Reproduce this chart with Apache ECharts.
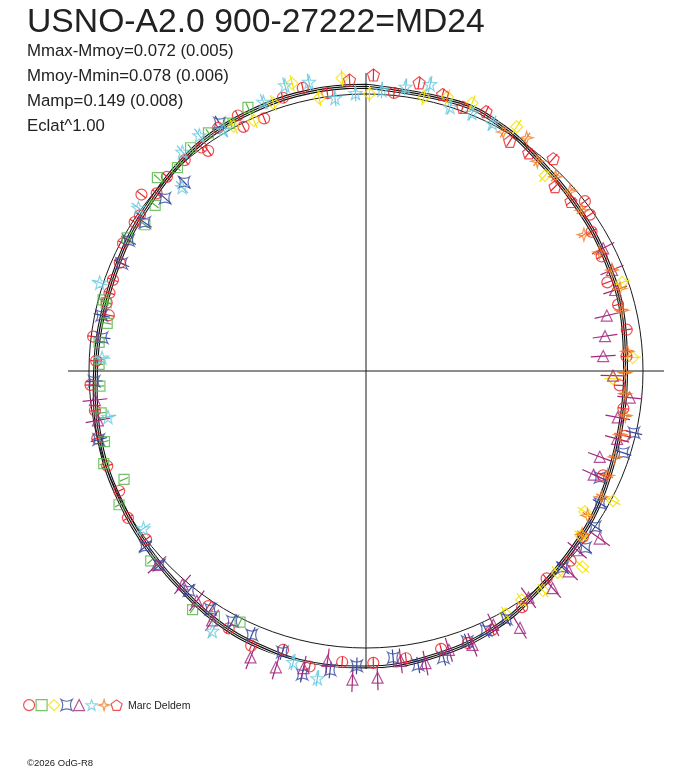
<!DOCTYPE html>
<html>
<head>
<meta charset="utf-8">
<script src="https://cdn.jsdelivr.net/npm/echarts@6/dist/echarts.min.js"></script>
<style>
html, body { margin: 0; padding: 0; background: #fff; }
#container { width: 688px; height: 768px; }
</style>
</head>
<body>
<div id="container"></div>
<script>
// every point is [phase (0..1, clockwise from top), magnitude offset from Mmoy (outward +)]
var fitCurve = [
	[0.000, 0.028], [0.053, 0.024], [0.081, 0.011], [0.105, -0.012], [0.144, -0.034],
	[0.181, -0.045], [0.219, -0.054], [0.250, -0.063], [0.275, -0.061], [0.306, -0.050],
	[0.336, -0.030], [0.361, -0.017], [0.392, 0.004], [0.428, 0.040], [0.467, 0.060],
	[0.500, 0.072], [0.528, 0.076], [0.558, 0.066], [0.586, 0.052], [0.619, 0.027],
	[0.642, 0.015], [0.664, 0.007], [0.692, 0.000], [0.717, -0.010], [0.739, -0.020],
	[0.769, -0.026], [0.800, -0.028], [0.831, -0.019], [0.861, -0.008], [0.883, 0.006],
	[0.908, 0.020], [0.936, 0.025], [0.961, 0.029], [0.989, 0.029], [1.000, 0.028]
];
var fitSigma = 0.007;

var circlePts = [
	[0.016, 0.009], [0.145, 0.000], [0.153, -0.014], [0.162, -0.043], [0.178, -0.054],
	[0.194, -0.072], [0.209, -0.059], [0.225, -0.047], [0.241, -0.058], [0.259, -0.083],
	[0.273, -0.061], [0.289, -0.036], [0.316, -0.065], [0.354, -0.014], [0.369, 0.007],
	[0.386, -0.007], [0.407, 0.022], [0.428, 0.040], [0.443, 0.049], [0.458, 0.039],
	[0.478, 0.047], [0.496, 0.054], [0.513, 0.054], [0.530, 0.086], [0.546, 0.050],
	[0.563, 0.075], [0.578, 0.053], [0.594, 0.022], [0.646, 0.000], [0.662, 0.010],
	[0.678, -0.009], [0.694, -0.005], [0.711, 0.000], [0.727, -0.011], [0.742, -0.004],
	[0.756, -0.025], [0.770, -0.007], [0.784, -0.050], [0.791, -0.032], [0.797, -0.032],
	[0.805, -0.029], [0.816, -0.029], [0.827, -0.009], [0.841, -0.007], [0.846, -0.009],
	[0.856, 0.031], [0.862, -0.009], [0.873, 0.004], [0.887, 0.004], [0.899, 0.002],
	[0.901, -0.022], [0.913, 0.027], [0.926, 0.032], [0.926, -0.014], [0.939, -0.017],
	[0.953, 0.031], [0.965, 0.047], [0.978, 0.013]
];
var squarePts = [
	[0.574, 0.014], [0.588, 0.042], [0.600, 0.065], [0.635, 0.036], [0.671, 0.014],
	[0.683, -0.043], [0.696, 0.004], [0.708, -0.022], [0.725, -0.032], [0.741, -0.038],
	[0.754, -0.036], [0.767, -0.031], [0.779, -0.050], [0.791, -0.030], [0.792, -0.017],
	[0.831, -0.013], [0.843, -0.043], [0.856, -0.032], [0.869, 0.027], [0.881, 0.001],
	[0.894, 0.025], [0.907, 0.031], [0.920, 0.021], [0.933, 0.043]
];
var diamondPts = [
	[0.002, 0.000], [0.033, 0.011], [0.046, 0.032], [0.060, 0.040], [0.088, 0.036],
	[0.118, -0.043], [0.197, -0.022], [0.242, -0.036], [0.255, -0.108], [0.327, 0.007],
	[0.341, -0.061], [0.354, -0.022], [0.367, 0.054], [0.379, 0.004], [0.392, 0.017],
	[0.405, 0.000], [0.417, 0.011], [0.921, 0.004], [0.933, -0.009], [0.947, 0.024],
	[0.960, 0.072], [0.973, 0.000], [0.987, 0.061]
];
var crossPts = [
	[0.286, -0.007], [0.299, -0.025], [0.318, -0.072], [0.332, -0.029], [0.345, 0.000],
	[0.358, 0.017], [0.375, 0.004], [0.418, 0.029], [0.431, 0.031], [0.443, 0.043],
	[0.458, 0.072], [0.472, 0.078], [0.485, 0.040], [0.505, 0.065], [0.519, 0.087],
	[0.533, 0.119], [0.546, 0.058], [0.565, 0.038], [0.578, 0.024], [0.592, 0.027],
	[0.608, 0.018], [0.630, 0.024], [0.643, 0.018], [0.710, -0.004], [0.744, -0.018],
	[0.770, -0.040], [0.783, -0.025], [0.816, -0.036], [0.830, -0.022], [0.844, -0.038],
	[0.863, -0.043], [0.878, -0.054], [0.915, 0.040]
];
var trianglePts = [
	[0.174, -0.036], [0.188, -0.040], [0.200, -0.054], [0.214, -0.108], [0.227, -0.128],
	[0.240, -0.142], [0.253, -0.108], [0.266, -0.043], [0.279, -0.076], [0.292, -0.061],
	[0.306, -0.101], [0.318, -0.097], [0.349, 0.038], [0.362, 0.000], [0.374, 0.029],
	[0.387, 0.034], [0.401, 0.007], [0.414, 0.081], [0.426, 0.025], [0.441, 0.061],
	[0.454, 0.050], [0.468, 0.076], [0.481, 0.054], [0.494, 0.108], [0.507, 0.115],
	[0.521, 0.056], [0.533, 0.096], [0.547, 0.118], [0.561, 0.115], [0.588, 0.058],
	[0.601, 0.030], [0.613, 0.016], [0.631, 0.029], [0.721, -0.016], [0.733, -0.016]
];
var starPts = [
	[0.009, 0.016], [0.022, 0.036], [0.035, 0.061], [0.049, 0.000], [0.062, 0.007],
	[0.075, 0.004], [0.525, 0.123], [0.539, 0.083], [0.585, 0.090], [0.652, -0.016],
	[0.722, -0.054], [0.758, -0.046], [0.801, 0.013], [0.849, 0.011], [0.875, -0.061],
	[0.889, 0.032], [0.902, 0.042], [0.915, 0.011], [0.942, 0.040], [0.956, 0.072],
	[0.969, 0.064], [0.982, -0.008], [0.994, 0.004]
];
var sparklePts = [
	[0.083, -0.005], [0.096, 0.022], [0.109, -0.022], [0.123, -0.020], [0.135, -0.018],
	[0.148, -0.029], [0.161, -0.072], [0.175, -0.054], [0.188, -0.040], [0.200, -0.036],
	[0.213, -0.050], [0.238, -0.054], [0.251, -0.065], [0.264, -0.061], [0.277, -0.050],
	[0.289, -0.054], [0.303, -0.050], [0.315, -0.050], [0.328, -0.036], [0.342, -0.045],
	[0.353, -0.022]
];
var pentagonPts = [
	[0.004, 0.069], [0.029, 0.058], [0.043, 0.036], [0.056, 0.014], [0.069, 0.032],
	[0.089, -0.022], [0.102, -0.018], [0.115, 0.022], [0.127, -0.047], [0.140, -0.040],
	[0.991, 0.052]
];

var titleText = 'USNO-A2.0 900-27222=MD24';
var statLines = ['Mmax-Mmoy=0.072 (0.005)', 'Mmoy-Mmin=0.078 (0.006)', 'Mamp=0.149 (0.008)', 'Eclat^1.00'];
var observer = 'Marc Deldem';
var credit = '\u00a92026 OdG-R8';

var SYM_CROSS = 'path://M-10,-10 Q0,-4 10,-10 Q4,0 10,10 Q0,4 -10,10 Q-4,0 -10,-10 Z';
var SYM_STAR = 'path://M0,-10 L2.35,-3.24 L9.51,-3.09 L3.8,1.24 L5.88,8.09 L0,4 L-5.88,8.09 L-3.8,1.24 L-9.51,-3.09 L-2.35,-3.24 Z';
var SYM_SPARKLE = 'path://M0,-10 L2.2,-2.2 L10,0 L2.2,2.2 L0,10 L-2.2,2.2 L-10,0 L-2.2,-2.2 Z';
var SYM_PENTA = 'path://M0,-10 L9.51,-3.09 L5.88,8.09 L-5.88,8.09 L-9.51,-3.09 Z';

var markerSets = [
	{ name: 'set1', data: circlePts, symbol: 'circle', size: 11, color: '#e8262b', err: 0.02 },
	{ name: 'set2', data: squarePts, symbol: 'rect', size: 10, color: '#56b445', err: 0.016 },
	{ name: 'set3', data: diamondPts, symbol: 'diamond', size: 12, color: '#f2e400', err: 0.03 },
	{ name: 'set4', data: crossPts, symbol: SYM_CROSS, size: 11, color: '#3a4b9f', err: 0.03 },
	{ name: 'set5', data: trianglePts, symbol: 'triangle', size: 11, color: '#a4277f', err: 0.045 },
	{ name: 'set6', data: starPts, symbol: SYM_STAR, size: 13, color: '#6ccbe0', err: 0.03 },
	{ name: 'set7', data: sparklePts, symbol: SYM_SPARKLE, size: 13, color: '#f07c28', err: 0.022 },
	{ name: 'set8', data: pentagonPts, symbol: SYM_PENTA, size: 12, color: '#e8262b', err: 0.022 }
];

var myChart = echarts.init(document.getElementById('container'));

// polar data order is [radius, angle]
function toPolar(pts) {
	return pts.map(function (p) { return [p[1], p[0]]; });
}

var series = [];

series.push({
	type: 'line', coordinateSystem: 'polar', clip: false, silent: true,
	data: toPolar(fitCurve), smooth: 0.4, showSymbol: false, symbol: 'none',
	lineStyle: { color: '#111', width: 1.2 }, z: 3
});
[-1, 1].forEach(function (s) {
	series.push({
		type: 'line', coordinateSystem: 'polar', clip: false, silent: true,
		data: toPolar(fitCurve.map(function (p) { return [p[0], p[1] + s * fitSigma]; })),
		smooth: 0.4, showSymbol: false, symbol: 'none',
		lineStyle: { color: '#111', width: 1.1 }, z: 3
	});
});

markerSets.forEach(function (set) {
	series.push({
		type: 'custom', coordinateSystem: 'polar', clip: false, silent: true,
		data: toPolar(set.data), z: 4,
		renderItem: function (params, api) {
			var r = api.value(0), a = api.value(1);
			var p1 = api.coord([r - set.err, a]);
			var p2 = api.coord([r + set.err, a]);
			return {
				type: 'line',
				shape: { x1: p1[0], y1: p1[1], x2: p2[0], y2: p2[1] },
				style: { stroke: set.color, lineWidth: 1.2 }
			};
		}
	});
	series.push({
		name: set.name, type: 'scatter', coordinateSystem: 'polar', clip: false,
		data: toPolar(set.data), symbol: set.symbol, symbolSize: set.size,
		itemStyle: { color: 'rgba(0,0,0,0)', borderColor: set.color, borderWidth: 1.2 },
		z: 5
	});
});

var FONT = '"Liberation Sans", Arial, sans-serif';
var graphics = [
	{ type: 'text', x: 27, y: 40, style: { text: titleText, font: '33.7px ' + FONT, fill: '#222', textVerticalAlign: 'bottom' } }
];
statLines.forEach(function (t, i) {
	graphics.push({ type: 'text', x: 27, y: 60 + i * 25, style: { text: t, font: '16.8px ' + FONT, fill: '#222', textVerticalAlign: 'bottom' } });
});
graphics.push({ type: 'text', x: 128, y: 712, style: { text: observer, font: '10.5px ' + FONT, fill: '#222', textVerticalAlign: 'bottom' } });
graphics.push({ type: 'text', x: 27, y: 768, style: { text: credit, font: '9.5px ' + FONT, fill: '#222', textVerticalAlign: 'bottom' } });

option = {
	backgroundColor: '#fff',
	animation: false,
	polar: { center: [366, 371], radius: 298 },
	angleAxis: {
		type: 'value', min: 0, max: 1, interval: 0.25, startAngle: 90, clockwise: true,
		axisLine: { show: false }, axisTick: { show: false }, axisLabel: { show: false },
		splitLine: { show: true, lineStyle: { color: '#1a1a1a', width: 1 } }
	},
	radiusAxis: {
		type: 'value', min: -1, max: 0.0758, interval: 1,
		axisLine: { show: false }, axisTick: { show: false }, axisLabel: { show: false },
		splitLine: { show: true, lineStyle: { color: ['rgba(0,0,0,0)', '#1a1a1a', 'rgba(0,0,0,0)'], width: 1 } }
	},
	legend: {
		data: markerSets.map(function (s) { return s.name; }),
		left: 23, top: 699, orient: 'horizontal',
		itemWidth: 11, itemHeight: 11, itemGap: 0.3, padding: 0,
		formatter: function () { return ''; },
		itemStyle: { borderWidth: 1.2 },
		selectedMode: false
	},
	graphic: graphics,
	series: series
};

myChart.setOption(option);
</script>
</body>
</html>
